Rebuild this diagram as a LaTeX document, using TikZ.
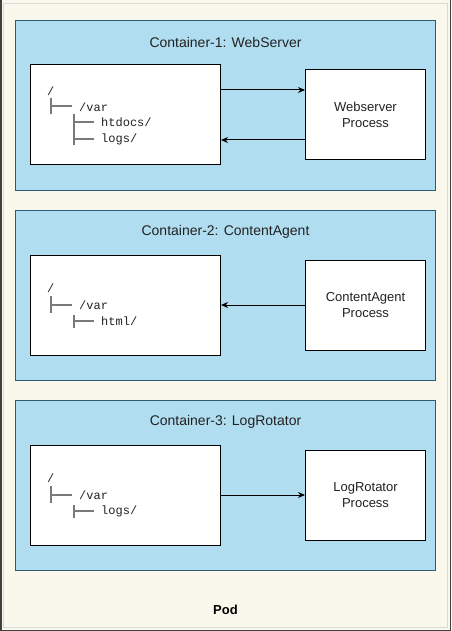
\documentclass[tikz,border=0pt]{standalone}
\usepackage{fontspec}
\setmainfont{Liberation Sans}
\newfontfamily\monofont{Liberation Mono}
\usetikzlibrary{arrows.meta}
\definecolor{podbg}{HTML}{FAF7EC}
\definecolor{cfill}{HTML}{B1DDF0}
\definecolor{cstroke}{HTML}{2B5C72}
\definecolor{txt}{HTML}{222222}
\definecolor{treeline}{HTML}{7A7A7A}
\tikzset{
  container/.style={draw=cstroke, fill=cfill, line width=1pt, minimum width=420pt, minimum height=170pt, inner sep=0pt},
  fsbox/.style={draw=black, fill=white, line width=1pt, minimum width=190pt, minimum height=100pt, inner sep=0pt},
  procbox/.style={draw=black, fill=white, line width=1pt, minimum width=120pt, minimum height=90pt, inner sep=0pt, align=center, text=txt, font=\fontsize{13}{15.5}\selectfont},
  ctitle/.style={text=txt, font=\fontsize{14}{16}\selectfont, inner sep=0pt},
  treetxt/.style={anchor=west, inner sep=0pt, text=txt, font=\monofont\fontsize{12}{14}\selectfont},
  tline/.style={draw=treeline, line width=1.1pt},
  arr/.style={draw=black, line width=1pt, -{Stealth[length=7pt,width=6pt]}},
}
\begin{document}
\begin{tikzpicture}[x=1pt,y=-1pt]
\useasboundingbox (0,0) rectangle (451,631);
\fill[podbg] (0,0) rectangle (451,631);
\draw[draw=black!15, line width=0.8pt] (3.5,3) rectangle (447,627);
\draw[draw=black!75, line width=1.5pt] (0.75,0) -- (0.75,630.25) -- (450.25,630.25) -- (450.25,0);

% Container 1
\node[container] (c1) at (225.5,105.5) {};
\node[ctitle] (t1) at (225.5,42) {Container-1: WebServer};
\node[fsbox] (lb1) at (125.5,115) {};
\node[procbox] (pb1) at (365.5,115) {Webserver\\Process};
\draw[arr] ([yshift=25pt]lb1.east) -- ([yshift=25pt]lb1.east -| pb1.west);
\draw[arr] ([yshift=-25pt]lb1.east -| pb1.west) -- ([yshift=-25pt]lb1.east);
\node[treetxt] (r1) at (47,91) {/};
\node[treetxt] (v1) at (79,107) {/var};
\node[treetxt] (h1) at (101,122) {htdocs/};
\node[treetxt] (g1) at (101,139) {logs/};
\draw[tline] (51,98) -- (51,114);
\draw[tline] (51,106) -- (72,106);
\draw[tline] (74,114) -- (74,145);
\draw[tline] (74,122) -- (94,122);
\draw[tline] (74,139) -- (94,139);

% Container 2
\node[container] (c2) at (225.5,295.5) {};
\node[ctitle] (t2) at (225.5,232) {Container-2: ContentAgent};
\node[fsbox] (lb2) at (125.5,305) {};
\node[procbox] (pb2) at (365.5,305) {ContentAgent\\Process};
\draw[arr] (pb2.west) -- (lb2.east);
\node[treetxt] (r2) at (47,288) {/};
\node[treetxt] (v2) at (79,305) {/var};
\node[treetxt] (h2) at (101,321) {html/};
\draw[tline] (51,296) -- (51,313);
\draw[tline] (51,305) -- (72,305);
\draw[tline] (74,315) -- (74,328);
\draw[tline] (74,321) -- (94,321);

% Container 3
\node[container] (c3) at (225.5,485.5) {};
\node[ctitle] (t3) at (225.5,422) {Container-3: LogRotator};
\node[fsbox] (lb3) at (125.5,495) {};
\node[procbox] (pb3) at (365.5,495) {LogRotator\\Process};
\draw[arr] (lb3.east) -- (pb3.west);
\node[treetxt] (r3) at (47,478) {/};
\node[treetxt] (v3) at (79,495) {/var};
\node[treetxt] (g3) at (101,511) {logs/};
\draw[tline] (51,486) -- (51,503);
\draw[tline] (51,495) -- (72,495);
\draw[tline] (74,505) -- (74,518);
\draw[tline] (74,511) -- (94,511);

% Pod label
\node[inner sep=0pt, text=black, font=\bfseries\fontsize{13}{15}\selectfont] (pod) at (225.5,610) {Pod};
\end{tikzpicture}
\end{document}
